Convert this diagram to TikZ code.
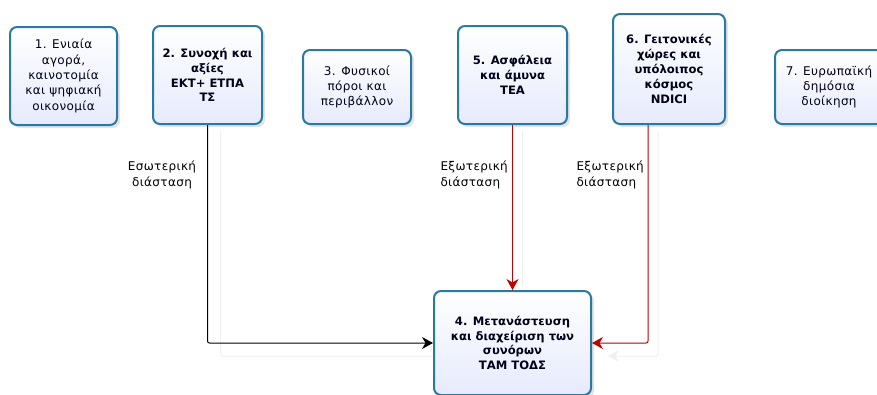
\documentclass[tikz,border=0pt]{standalone}
\usepackage{fontspec}
\setmainfont{DejaVu Sans}
\newfontfamily\spaced{DejaVu Sans}[LetterSpace=3]
\usetikzlibrary{positioning, arrows.meta, shadows}
\definecolor{boxline}{RGB}{41,122,163}
\definecolor{boxfill}{RGB}{230,234,252}
\definecolor{extred}{RGB}{192,0,0}

\begin{document}
\begin{tikzpicture}[x=1pt, y=-1pt,
    area/.style={draw=boxline, line width=2pt, rounded corners=7pt,
      top color=white, bottom color=boxfill, align=center, inner sep=1pt,
      text=black!90!blue, font=\spaced\fontsize{12}{15.3}\selectfont,
      drop shadow={shadow xshift=3pt, shadow yshift=-3pt, opacity=.22}},
    main/.style={area, font=\bfseries\fontsize{11.6}{14.8}\selectfont},
    dim/.style={font=\spaced\fontsize{12}{15.5}\selectfont},
    link/.style={-{Stealth[length=11pt,width=12pt,inset=3.5pt]}, line width=1pt, rounded corners=2pt},
    ghost/.style={draw=black!6, line width=1pt, rounded corners=2pt}]
  \useasboundingbox (0,0) rectangle (877,394);

  \node[area, minimum width=107pt, minimum height=98pt]  (agora)    at (63.5,76)  {1. Ενιαία\\αγορά,\\καινοτομία\\και ψηφιακή\\οικονομία};
  \node[main, minimum width=109pt, minimum height=98pt]  (synoxi)   at (207.5,75) {2. Συνοχή και\\αξίες\\ΕΚΤ+ ΕΤΠΑ\\ΤΣ};
  \node[area, minimum width=108pt, minimum height=74pt]  (fysikoi)  at (357,87)   {3. Φυσικοί\\πόροι και\\περιβάλλον};
  \node[main, minimum width=109pt, minimum height=98pt]  (asfaleia) at (512.5,75) {5. Ασφάλεια\\και άμυνα\\ΤΕΑ};
  \node[main, minimum width=112pt, minimum height=110pt] (geitonia) at (669,69)   {6. Γειτονικές\\χώρες και\\υπόλοιπος\\κόσμος\\NDICI};
  \node[area, minimum width=108pt, minimum height=74pt]  (dioikisi) at (829,87)   {7. Ευρωπαϊκή\\δημόσια\\διοίκηση};
  \node[main, minimum width=157pt, minimum height=104pt] (synora)   at (512.5,343) {4. Μετανάστευση\\και διαχείριση των\\συνόρων\\ΤΑΜ ΤΟΔΣ};

  \node[dim, align=center]            (eswt)  at (162,175) {Εσωτερική\\διάσταση};
  \node[dim, align=left, anchor=west] (exwt1) at (437,175) {Εξωτερική\\διάσταση};
  \node[dim, align=left, anchor=west] (exwt2) at (573,175) {Εξωτερική\\διάσταση};

  \draw[ghost] ([xshift=13pt, yshift=-6pt]synoxi.south) |- ([yshift=-13pt]synora.west);
  \draw[ghost] ([xshift=10pt, yshift=-6pt]asfaleia.south) -- ([xshift=10pt, yshift=4pt]synora.north);
  \draw[ghost, -{Stealth[length=11pt,width=12pt,inset=3.5pt]}] ([xshift=-11pt, yshift=-6pt]geitonia.south) |- ([xshift=16pt, yshift=-13pt]synora.east);

  \draw[link] (synoxi.south) |- (synora.west);
  \draw[link, extred] (asfaleia) -- (synora);
  \draw[link, extred] ([xshift=-21pt]geitonia.south) |- (synora.east);
\end{tikzpicture}
\end{document}
